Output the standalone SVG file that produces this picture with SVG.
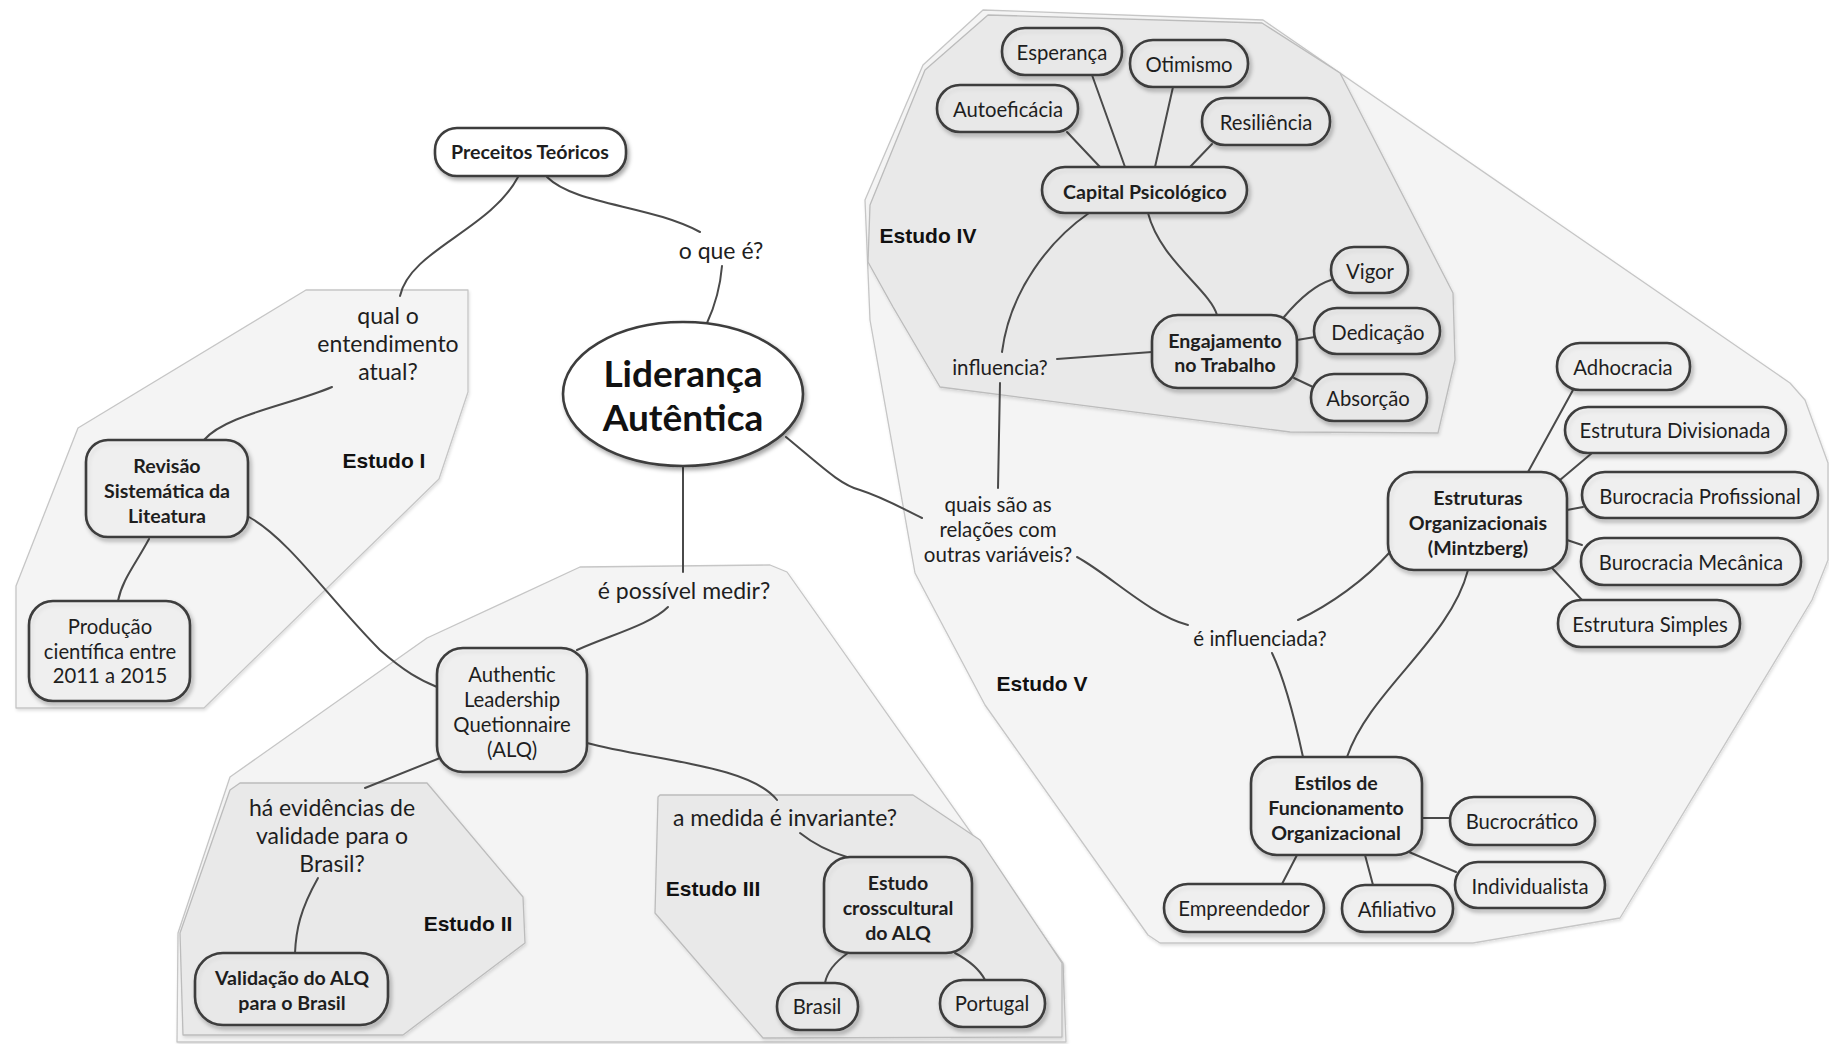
<svg xmlns="http://www.w3.org/2000/svg" width="1829" height="1044" viewBox="0 0 1829 1044">
  <defs>
    <filter id="shadow" x="-20%" y="-20%" width="150%" height="160%">
      <feDropShadow dx="2" dy="3" stdDeviation="2" flood-color="#000" flood-opacity="0.35"/>
    </filter>
    <filter id="soft" x="-5%" y="-5%" width="110%" height="110%">
      <feDropShadow dx="1" dy="2" stdDeviation="1.5" flood-color="#000" flood-opacity="0.12"/>
    </filter>
    <style>
      .light { fill: #f4f4f4; stroke: #c6c6c6; stroke-width: 1.3; stroke-linejoin: round; filter: url(#soft); }
      .dark { fill: #e9e9e9; stroke: #bcbcbc; stroke-width: 1.3; stroke-linejoin: round; filter: url(#soft); }
      .node { fill: #ffffff; fill-opacity: 0.3; stroke: #3d3d3d; stroke-width: 2.6; filter: url(#shadow); }
      .white { fill: #ffffff; fill-opacity: 1; }
      .link { fill: none; stroke: #4a4a4a; stroke-width: 2; stroke-linecap: round; }
      text { font-family: Lato, "Noto Sans", sans-serif; fill: #1e1e1e; text-anchor: middle; dominant-baseline: central; }
      .n { font-size: 20.3px; }
      .b { font-size: 19.6px; font-weight: bold; }
      .q { font-size: 23px; }
      .qs { font-size: 20.5px; }
      .st { font-family: "Liberation Sans", Arial, sans-serif; font-size: 21px; font-weight: bold; fill: #111; }
      .main { font-size: 37px; font-weight: bold; fill: #111; }
    </style>
  </defs>

  <rect width="1829" height="1044" fill="#ffffff"/>

  <!-- study areas -->
  <g id="areas">
    <polygon id="estudo-1-area" class="light" points="306,290 468,290 468,392 439,479 204,708 16,708 16,586 78,428"/>
    <polygon id="estudo-2-3-area" class="light" points="580,567 770,565 787,572 1063,963 1066,1042 177,1042 178,933 230,777 427,638"/>
    <polygon id="estudo-2-area" class="dark" points="240,783 427,783 523,897 525,943 403,1035 183,1035 180,933 230,790"/>
    <polygon id="estudo-3-area" class="dark" points="660,795 913,795 980,840 1062,963 1062,1037 763,1038 655,913 658,797"/>
    <polygon id="estudo-5-area" class="light" points="983,10 1263,20 1790,383 1805,400 1828,463 1828,560 1812,600 1620,918 1473,943 1160,943 1148,935 985,705 915,573 870,320 865,200 923,65"/>
    <polygon id="estudo-4-area" class="dark" points="988,15 1262,23 1340,73 1453,293 1455,360 1438,433 1290,432 940,387 893,307 868,262 870,205 925,70"/>
  </g>

  <!-- connectors -->
  <g id="connectors">
    <path class="link" d="M547,177 C575,205 650,205 700,232"/>
    <path class="link" d="M722,266 C720,290 713,310 707,323"/>
    <path class="link" d="M518,177 C490,230 410,250 400,296"/>
    <path class="link" d="M332,387 C290,405 225,415 204,440"/>
    <path class="link" d="M149,539 C135,565 122,580 118,601"/>
    <path class="link" d="M249,517 C290,540 330,600 380,650 C405,672 420,680 437,687"/>
    <path class="link" d="M683,466 L683,572"/>
    <path class="link" d="M668,607 C650,625 610,635 577,650"/>
    <path class="link" d="M440,758 L365,788"/>
    <path class="link" d="M318,878 C300,910 296,930 295,953"/>
    <path class="link" d="M587,743 C650,760 750,765 777,800"/>
    <path class="link" d="M800,833 C815,845 830,852 847,857"/>
    <path class="link" d="M848,953 C835,962 827,972 825,983"/>
    <path class="link" d="M955,953 C968,960 980,970 985,980"/>
    <path class="link" d="M786,437 C820,465 840,485 860,490 C885,498 905,510 922,518"/>
    <path class="link" d="M998,488 L1000,383"/>
    <path class="link" d="M1002,352 C1010,290 1050,240 1089,213"/>
    <path class="link" d="M1057,359 L1152,352"/>
    <path class="link" d="M1148,213 C1160,260 1210,290 1217,315"/>
    <path class="link" d="M1067,132 L1100,167"/>
    <path class="link" d="M1092,75 L1125,167"/>
    <path class="link" d="M1173,87 L1155,167"/>
    <path class="link" d="M1212,144 L1190,167"/>
    <path class="link" d="M1284,317 C1300,298 1315,285 1331,280"/>
    <path class="link" d="M1297,340 L1315,337"/>
    <path class="link" d="M1294,378 L1313,387"/>
    <path class="link" d="M1077,557 C1110,575 1150,615 1188,625"/>
    <path class="link" d="M1298,620 C1330,605 1365,580 1390,552"/>
    <path class="link" d="M1272,653 C1285,680 1295,720 1303,757"/>
    <path class="link" d="M1468,570 C1450,640 1370,690 1347,757"/>
    <path class="link" d="M1528,472 L1573,390"/>
    <path class="link" d="M1560,480 L1592,453"/>
    <path class="link" d="M1567,510 L1583,507"/>
    <path class="link" d="M1567,540 L1582,545"/>
    <path class="link" d="M1552,568 L1582,600"/>
    <path class="link" d="M1422,818 L1450,818"/>
    <path class="link" d="M1409,852 L1456,872"/>
    <path class="link" d="M1297,855 L1282,884"/>
    <path class="link" d="M1365,855 L1373,885"/>
  </g>

  <!-- link phrases -->
  <g id="phrases">
    <text class="q" x="721" y="250">o que é?</text>
    <text class="q" x="388" y="315">qual o</text>
    <text class="q" x="388" y="343">entendimento</text>
    <text class="q" x="388" y="371">atual?</text>
    <text class="q" x="684" y="590">é possível medir?</text>
    <text class="q" x="332" y="807">há evidências de</text>
    <text class="q" x="332" y="835">validade para o</text>
    <text class="q" x="332" y="863">Brasil?</text>
    <text class="q" x="785" y="817">a medida é invariante?</text>
    <text class="qs" x="1000" y="367">influencia?</text>
    <text class="qs" x="998" y="504">quais são as</text>
    <text class="qs" x="998" y="529">relações com</text>
    <text class="qs" x="998" y="554">outras variáveis?</text>
    <text class="qs" x="1260" y="638">é influenciada?</text>
  </g>

  <!-- study labels -->
  <g id="labels">
    <text class="st" x="384" y="460">Estudo I</text>
    <text class="st" x="468" y="923">Estudo II</text>
    <text class="st" x="713" y="888">Estudo III</text>
    <text class="st" x="928" y="235">Estudo IV</text>
    <text class="st" x="1042" y="683">Estudo V</text>
  </g>

  <!-- nodes -->
  <g id="lideranca-autentica">
    <ellipse class="node white" cx="683" cy="394" rx="120" ry="72"/>
    <text class="main" x="683" y="372">Liderança</text>
    <text class="main" x="683" y="416">Autêntica</text>
  </g>
  <g id="preceitos-teoricos">
    <rect class="node white" x="435" y="128" width="191" height="48" rx="22"/>
    <text class="b" x="530" y="151">Preceitos Teóricos</text>
  </g>
  <g id="revisao-sistematica">
    <rect class="node" x="86" y="440" width="162" height="97" rx="22"/>
    <text class="b" x="167" y="465">Revisão</text>
    <text class="b" x="167" y="490">Sistemática da</text>
    <text class="b" x="167" y="515">Liteatura</text>
  </g>
  <g id="producao-cientifica">
    <rect class="node" x="29" y="601" width="161" height="100" rx="24"/>
    <text class="n" x="110" y="626">Produção</text>
    <text class="n" x="110" y="651">científica entre</text>
    <text class="n" x="110" y="675">2011 a 2015</text>
  </g>
  <g id="alq">
    <rect class="node" x="437" y="648" width="150" height="124" rx="26"/>
    <text class="n" x="512" y="674">Authentic</text>
    <text class="n" x="512" y="699">Leadership</text>
    <text class="n" x="512" y="724">Quetionnaire</text>
    <text class="n" x="512" y="749">(ALQ)</text>
  </g>
  <g id="validacao-alq">
    <rect class="node" x="195" y="953" width="193" height="72" rx="28"/>
    <text class="b" x="292" y="977">Validação do ALQ</text>
    <text class="b" x="292" y="1002">para o Brasil</text>
  </g>
  <g id="estudo-crosscultural">
    <rect class="node" x="824" y="857" width="148" height="96" rx="26"/>
    <text class="b" x="898" y="882">Estudo</text>
    <text class="b" x="898" y="907">crosscultural</text>
    <text class="b" x="898" y="932">do ALQ</text>
  </g>
  <g id="brasil">
    <rect class="node" x="777" y="983" width="81" height="47" rx="23"/>
    <text class="n" x="817" y="1006">Brasil</text>
  </g>
  <g id="portugal">
    <rect class="node" x="940" y="980" width="105" height="47" rx="23"/>
    <text class="n" x="992" y="1003">Portugal</text>
  </g>
  <g id="esperanca">
    <rect class="node" x="1002" y="28" width="120" height="47" rx="23"/>
    <text class="n" x="1062" y="52">Esperança</text>
  </g>
  <g id="otimismo">
    <rect class="node" x="1130" y="40" width="118" height="47" rx="23"/>
    <text class="n" x="1189" y="64">Otimismo</text>
  </g>
  <g id="autoeficacia">
    <rect class="node" x="937" y="85" width="141" height="47" rx="23"/>
    <text class="n" x="1008" y="109">Autoeficácia</text>
  </g>
  <g id="resiliencia">
    <rect class="node" x="1202" y="98" width="128" height="47" rx="23"/>
    <text class="n" x="1266" y="122">Resiliência</text>
  </g>
  <g id="capital-psicologico">
    <rect class="node" x="1042" y="167" width="205" height="46" rx="23"/>
    <text class="b" x="1145" y="191">Capital Psicológico</text>
  </g>
  <g id="engajamento">
    <rect class="node" x="1152" y="315" width="145" height="73" rx="26"/>
    <text class="b" x="1225" y="340">Engajamento</text>
    <text class="b" x="1225" y="364">no Trabalho</text>
  </g>
  <g id="vigor">
    <rect class="node" x="1331" y="247" width="77" height="46" rx="23"/>
    <text class="n" x="1370" y="271">Vigor</text>
  </g>
  <g id="dedicacao">
    <rect class="node" x="1314" y="308" width="126" height="46" rx="23"/>
    <text class="n" x="1378" y="332">Dedicação</text>
  </g>
  <g id="absorcao">
    <rect class="node" x="1311" y="374" width="116" height="47" rx="23"/>
    <text class="n" x="1368" y="398">Absorção</text>
  </g>
  <g id="estruturas-organizacionais">
    <rect class="node" x="1388" y="472" width="179" height="98" rx="26"/>
    <text class="b" x="1478" y="497">Estruturas</text>
    <text class="b" x="1478" y="522">Organizacionais</text>
    <text class="b" x="1478" y="547">(Mintzberg)</text>
  </g>
  <g id="adhocracia">
    <rect class="node" x="1557" y="343" width="133" height="47" rx="23"/>
    <text class="n" x="1623" y="367">Adhocracia</text>
  </g>
  <g id="estrutura-divisionada">
    <rect class="node" x="1565" y="407" width="221" height="46" rx="23"/>
    <text class="n" x="1675" y="430">Estrutura Divisionada</text>
  </g>
  <g id="burocracia-profissional">
    <rect class="node" x="1582" y="472" width="236" height="46" rx="23"/>
    <text class="n" x="1700" y="496">Burocracia Profissional</text>
  </g>
  <g id="burocracia-mecanica">
    <rect class="node" x="1581" y="538" width="220" height="47" rx="23"/>
    <text class="n" x="1691" y="562">Burocracia Mecânica</text>
  </g>
  <g id="estrutura-simples">
    <rect class="node" x="1558" y="600" width="182" height="47" rx="23"/>
    <text class="n" x="1650" y="624">Estrutura Simples</text>
  </g>
  <g id="estilos-funcionamento">
    <rect class="node" x="1251" y="757" width="171" height="98" rx="26"/>
    <text class="b" x="1336" y="782">Estilos de</text>
    <text class="b" x="1336" y="807">Funcionamento</text>
    <text class="b" x="1336" y="832">Organizacional</text>
  </g>
  <g id="bucrocratico">
    <rect class="node" x="1450" y="797" width="145" height="48" rx="24"/>
    <text class="n" x="1522" y="821">Bucrocrático</text>
  </g>
  <g id="individualista">
    <rect class="node" x="1455" y="862" width="150" height="46" rx="23"/>
    <text class="n" x="1530" y="886">Individualista</text>
  </g>
  <g id="empreendedor">
    <rect class="node" x="1164" y="884" width="160" height="48" rx="24"/>
    <text class="n" x="1244" y="908">Empreendedor</text>
  </g>
  <g id="afiliativo">
    <rect class="node" x="1342" y="885" width="111" height="47" rx="23"/>
    <text class="n" x="1397" y="909">Afiliativo</text>
  </g>
</svg>
